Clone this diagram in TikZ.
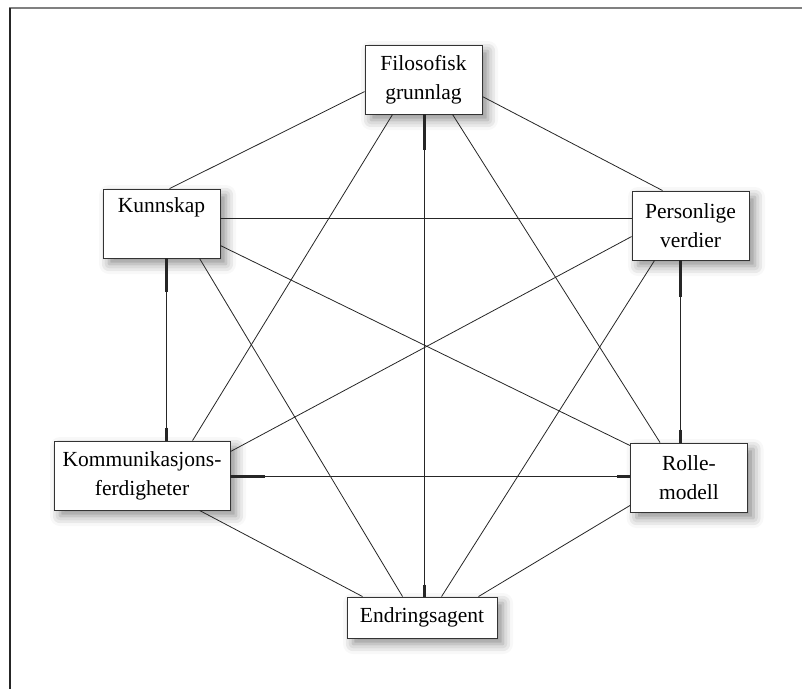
\documentclass[tikz,border=0pt]{standalone}
\usepackage{fontspec}
\setmainfont{Liberation Serif}
\usetikzlibrary{calc,shadows.blur}
\begin{document}
\begin{tikzpicture}[x=1pt,y=-1pt,
  box/.style={draw=black!80, line width=0.9pt, fill=white, align=center,
    minimum width=117pt, minimum height=69pt, inner sep=2pt,
    font=\fontsize{21.5}{29}\selectfont,
    blur shadow={shadow xshift=6pt, shadow yshift=-6pt, shadow blur radius=10pt, shadow opacity=45}},
  link/.style={line width=0.8pt, draw=black!85},
  stub/.style={line width=3pt, draw=black!85}]
\useasboundingbox (0,0) rectangle (802,689);
% frame
\draw[black!50, line width=1.5pt] (9,8) -- (802,8);
\draw[black!85, line width=1.2pt] (10,8) -- (10,689);
% nodes
\node[box] (F) at (423.5,79.5) {Filosofisk\\grunnlag};
\node[box] (K) at (161.5,223.5) {Kunnskap\\\strut};
\node[box] (P) at (690.5,225.5) {Personlige\\verdier};
\node[box, minimum width=176pt] (C) at (142,475.5) {Kommunikasjons-\\ferdigheter};
\node[box] (R) at (689,477.5) {Rolle-\\modell};
\node[box, minimum width=150pt, minimum height=41pt] (E) at (422,617.5) {Endringsagent};
% attachment points
\coordinate (fe1) at ($(F.south)+(0.5,0)$);
\coordinate (fe2) at (fe1 |- E.north);
\coordinate (kc1) at ($(K.south)+(4.5,0)$);
\coordinate (kc2) at (kc1 |- C.north);
\coordinate (pr1) at ($(P.south west)+(49,0)$);
\coordinate (pr2) at (pr1 |- R.north);
\coordinate (cr1) at ($(C.north east)+(0,36)$);
\coordinate (cr2) at (cr1 -| R.west);
\coordinate (kp1) at ($(K.north east)+(0,30)$);
\coordinate (kp2) at (kp1 -| P.west);
% hexagon edges
\draw[link] ($(F.north west)+(0,47)$) -- ($(K.north west)+(67,0)$);
\draw[link] ($(F.north east)+(0,52)$) -- ($(P.north west)+(31,0)$);
\draw[link] (kc1) -- (kc2);
\draw[link] (pr1) -- (pr2);
\draw[link] ($(C.south west)+(146,0)$) -- ($(E.north west)+(16,0)$);
\draw[link] ($(R.south west)+(0,-7)$) -- ($(E.north east)+(-19,0)$);
% diagonals
\draw[link] ($(F.south west)+(28,0)$) -- ($(C.north west)+(139,0)$);
\draw[link] (fe1) -- (fe2);
\draw[link] ($(F.south west)+(88,0)$) -- ($(R.north west)+(30,0)$);
\draw[link] (kp1) -- (kp2);
\draw[link] ($(K.north east)+(0,57)$) -- ($(R.north west)+(0,3)$);
\draw[link] ($(K.south west)+(97,0)$) -- ($(E.north west)+(56,0)$);
\draw[link] ($(P.north west)+(0,46)$) -- ($(C.north east)+(0,11)$);
\draw[link] ($(P.south west)+(23,0)$) -- ($(E.north west)+(95,0)$);
\draw[link] (cr1) -- (cr2);
% thick stubs
\draw[stub] (fe1) -- ($(fe1)!36pt!(fe2)$);
\draw[stub] ($(fe2)!12pt!(fe1)$) -- (fe2);
\draw[stub] (kc1) -- ($(kc1)!34pt!(kc2)$);
\draw[stub] ($(kc2)!13pt!(kc1)$) -- (kc2);
\draw[stub] (pr1) -- ($(pr1)!37pt!(pr2)$);
\draw[stub] ($(pr2)!13pt!(pr1)$) -- (pr2);
\draw[stub] (cr1) -- ($(cr1)!35pt!(cr2)$);
\draw[stub] ($(cr2)!13pt!(cr1)$) -- (cr2);
\end{tikzpicture}
\end{document}
